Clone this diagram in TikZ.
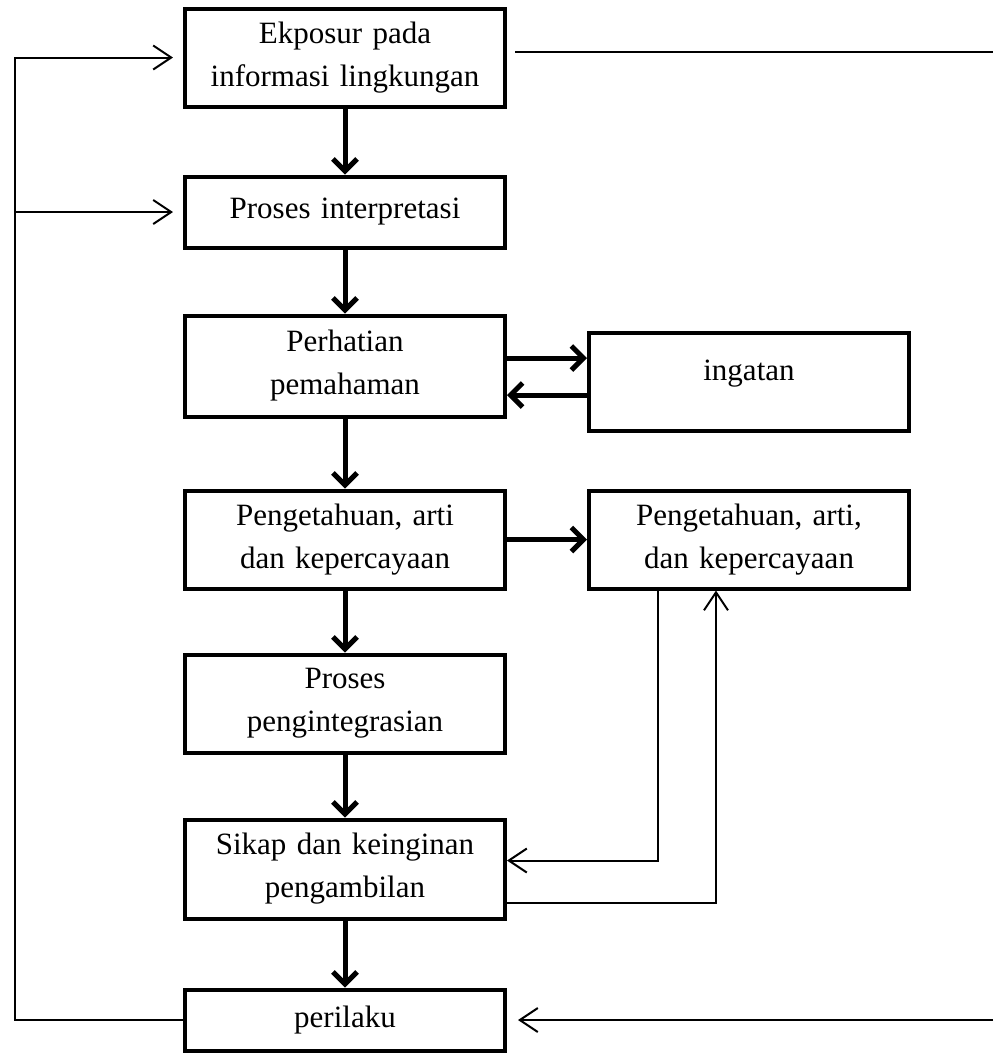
\documentclass[tikz,border=0pt]{standalone}
\usepackage{fontspec}
\setmainfont{Liberation Serif}
\usetikzlibrary{positioning, arrows.meta}
\tikzset{
  kotak/.style={rectangle, draw=black, line width=2pt, minimum width=160pt, minimum height=49pt, text width=152pt, text centered, font=\fontsize{15.5}{21.5}\selectfont},
  tebal/.style={line width=2.5pt, -{Straight Barb[length=6pt,width=12pt]}},
  tipis/.style={line width=1pt, -{Straight Barb[length=9pt,width=12pt]}}
}

\begin{document}
\begin{tikzpicture}[node distance=32.5pt]
            \useasboundingbox (-172.5pt,28.75pt) rectangle (324pt,-498.75pt);

            \node (ekspos) [kotak] at (0,0) {Ekposur pada\\ informasi lingkungan};
            \node (interp) [kotak, below=33pt of ekspos, minimum height=35.5pt] {Proses interpretasi};
            \node (perhat) [kotak, below=32pt of interp, minimum height=50.5pt] {Perhatian\\ pemahaman};
            \node (tahu) [kotak, below=35pt of perhat] {Pengetahuan, arti\\ dan kepercayaan};
            \node (integr) [kotak, below=31pt of tahu] {Proses\\ pengintegrasian};
            \node (sikap) [kotak, below=31.5pt of integr, minimum height=49.5pt] {Sikap dan keinginan\\ pengambilan};
            \node (laku) [kotak, below=33.5pt of sikap, minimum height=30.5pt] {perilaku};

            \node (ingat) [kotak, right=40pt of perhat, yshift=-8pt, text depth=12pt] {ingatan};
            \node (tahu2) [kotak, right=40pt of tahu] {Pengetahuan, arti,\\ dan kepercayaan};

            \coordinate (kiri) at (-165pt,0);
            \coordinate (tepi) at (324pt,2.75pt);

            \draw [tebal] (ekspos) -- (interp);
            \draw [tebal] (interp) -- (perhat);
            \draw [tebal] (perhat) -- (tahu);
            \draw [tebal] (tahu) -- (integr);
            \draw [tebal] (integr) -- (sikap);
            \draw [tebal] (sikap) -- (laku);

            % ke ingatan dan kembali
            \draw [tebal] ([yshift=4pt]perhat.east) -- ([yshift=4pt]perhat.east -| ingat.west);
            \draw [tebal] ([yshift=-14.5pt]perhat.east -| ingat.west) -- ([yshift=-14.5pt]perhat.east);
            \draw [tebal] (tahu.east) -- (tahu2.west);

            \draw [tipis] ([xshift=35.5pt]tahu2.south west) |- ([yshift=4.25pt]sikap.east);
            \draw [tipis] ([yshift=-17pt]sikap.east) -| ([xshift=64.5pt]tahu2.south west);

            % umpan balik
            \draw [tipis, shorten >=5pt] (laku.west) -| (kiri) -- (ekspos.west);
            \draw [tipis, shorten >=5pt] (kiri |- interp.west) -- (interp.west);
            \draw [line width=1pt, shorten <=4pt] ([yshift=2.75pt]ekspos.east) -- (tepi);
            \draw [tipis, shorten >=5.5pt] (laku.east -| tepi) -- (laku.east);
        \end{tikzpicture}
\end{document}
